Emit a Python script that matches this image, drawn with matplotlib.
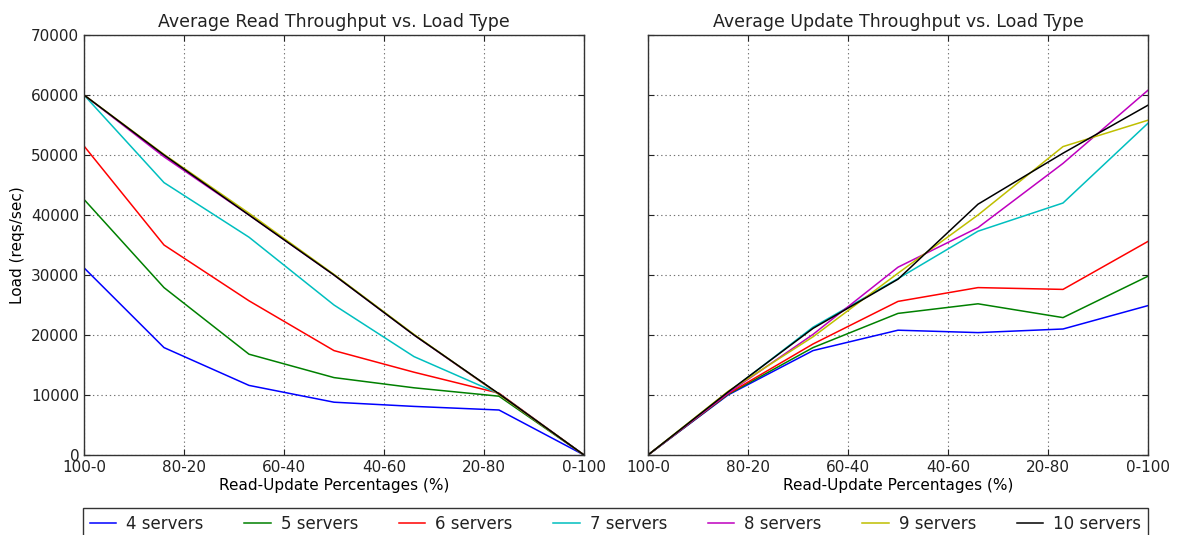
import matplotlib
matplotlib.use("Agg")
import matplotlib.pyplot as plt

# Update share of the workload (%) for each measured mix
update_pct = [0, 16, 33, 50, 66, 83, 100]
tick_pos = [0, 20, 40, 60, 80, 100]
tick_labels = ["100-0", "80-20", "60-40", "40-60", "20-80", "0-100"]

labels = ["4 servers", "5 servers", "6 servers", "7 servers",
          "8 servers", "9 servers", "10 servers"]
colors = ["b", "g", "r", "c", "m", "y", "k"]

# Average read throughput (reqs/sec)
read_4 = [31200, 17900, 11600, 8800, 8100, 7500, 0]
read_5 = [42600, 27900, 16800, 12900, 11200, 9800, 0]
read_6 = [51500, 35000, 25700, 17400, 13800, 10300, 0]
read_7 = [60000, 45400, 36300, 25000, 16400, 10200, 0]
read_8 = [60000, 49700, 40000, 30000, 20000, 10100, 0]
read_9 = [60000, 50100, 40300, 30100, 20100, 10100, 0]
read_10 = [60000, 50000, 40000, 30000, 20000, 10200, 0]

# Average update throughput (reqs/sec)
upd_4 = [0, 10000, 17400, 20800, 20400, 21000, 24900]
upd_5 = [0, 10100, 17900, 23600, 25200, 22900, 29800]
upd_6 = [0, 10200, 18500, 25600, 27900, 27600, 35600]
upd_7 = [0, 10400, 21300, 29400, 37300, 42000, 55300]
upd_8 = [0, 10300, 20100, 31300, 37900, 48600, 60800]
upd_9 = [0, 10600, 19700, 30300, 40000, 51400, 55800]
upd_10 = [0, 10500, 21100, 29300, 41800, 50300, 58300]

read_series = [read_4, read_5, read_6, read_7, read_8, read_9, read_10]
upd_series = [upd_4, upd_5, upd_6, upd_7, upd_8, upd_9, upd_10]

plt.rcParams.update({
    "font.family": "DejaVu Sans",
    "text.color": "#222222",
    "xtick.color": "#222222",
    "ytick.color": "#222222",
    "xtick.direction": "in",
    "ytick.direction": "in",
    "xtick.top": True,
    "ytick.right": True,
    "xtick.major.size": 4,
    "ytick.major.size": 4,
    "axes.linewidth": 1.0,
    "axes.edgecolor": "#333333",
})

W, H = 1178, 535
fig = plt.figure(figsize=(W / 100, H / 100), dpi=100, facecolor="white")
ax1 = fig.add_axes([84 / W, (H - 455) / H, 500 / W, 420 / H])
ax2 = fig.add_axes([648 / W, (H - 455) / H, 500 / W, 420 / H], sharey=ax1)

handles = []
for ys, c, lab in zip(read_series, colors, labels):
    h, = ax1.plot(update_pct, ys, color=c, lw=1.1, label=lab)
    handles.append(h)
for ys, c in zip(upd_series, colors):
    ax2.plot(update_pct, ys, color=c, lw=1.1)

for ax, title in ((ax1, "Average Read Throughput vs. Load Type"),
                  (ax2, "Average Update Throughput vs. Load Type")):
    ax.set_xlim(0, 100)
    ax.set_ylim(0, 70000)
    ax.set_xticks(tick_pos)
    ax.set_xticklabels(tick_labels)
    ax.set_yticks(range(0, 70001, 10000))
    ax.grid(True, color="0.45", linestyle=(0, (1.2, 2.6)), linewidth=0.8)
    ax.tick_params(labelsize=11)
    ax.set_title(title, fontsize=12.5, pad=6)
    ax.set_xlabel("Read-Update Percentages (%)", fontsize=11, labelpad=2)

ax1.set_ylabel("Load (reqs/sec)", fontsize=11)
plt.setp(ax2.get_yticklabels(), visible=False)

leg = fig.legend(handles, labels, loc="upper left", ncol=7, mode="expand",
                 bbox_to_anchor=(83 / W, 0, 1065 / W, (H - 508) / H),
                 borderaxespad=0, fontsize=12, handlelength=1.6,
                 handletextpad=0.6, borderpad=0.4, fancybox=False,
                 framealpha=1)
leg.get_frame().set_edgecolor("#333333")
leg.get_frame().set_linewidth(1.0)

fig.savefig("out.png", dpi=100, facecolor="white")
